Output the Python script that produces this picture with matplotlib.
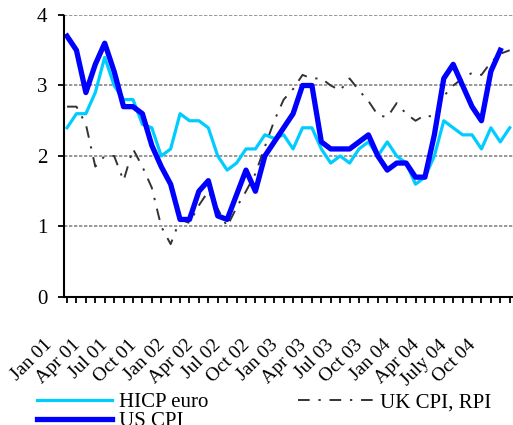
import numpy as np
import matplotlib.pyplot as plt
from matplotlib import transforms

plt.rcParams['font.family'] = ['Liberation Serif', 'DejaVu Serif']

# monthly data, Jan 01 .. Dec 04
hicp_euro = [2.4, 2.6, 2.6, 2.9, 3.4, 3.0, 2.8, 2.8, 2.45, 2.4, 2.0, 2.1,
             2.6, 2.5, 2.5, 2.4, 2.0, 1.8, 1.9, 2.1, 2.1, 2.3, 2.25, 2.3,
             2.1, 2.4, 2.4, 2.1, 1.9, 2.0, 1.9, 2.1, 2.2, 2.0, 2.2, 2.0,
             1.9, 1.6, 1.7, 2.0, 2.5, 2.4, 2.3, 2.3, 2.1, 2.4, 2.2, 2.4]
us_cpi = [3.7, 3.5, 2.9, 3.3, 3.6, 3.2, 2.7, 2.7, 2.6, 2.15, 1.85, 1.6,
          1.1, 1.1, 1.5, 1.65, 1.15, 1.1, 1.45, 1.8, 1.5, 2.0, 2.2, 2.4,
          2.6, 3.0, 3.0, 2.2, 2.1, 2.1, 2.1, 2.2, 2.3, 2.0, 1.8, 1.9,
          1.9, 1.7, 1.7, 2.3, 3.1, 3.3, 3.0, 2.7, 2.5, 3.2, 3.5]
uk_cpi_rpi = [2.7, 2.7, 2.45, 1.85, 2.0, 2.0, 1.65, 2.1, 1.85, 1.55, 1.0, 0.75,
              1.1, 1.05, 1.3, 1.5, 1.25, 1.0, 1.27, 1.5, 1.75, 2.13, 2.5, 2.8,
              2.95, 3.15, 3.1, 3.1, 3.0, 2.93, 3.1, 2.93, 2.78, 2.58, 2.55, 2.75,
              2.6, 2.5, 2.58, 2.55, 2.85, 3.0, 3.1, 3.18, 3.15, 3.33, 3.45, 3.5]
tick_labels = ['Jan 01', 'Apr 01', 'Jul 01', 'Oct 01', 'Jan 02', 'Apr 02', 'Jul 02', 'Oct 02',
               'Jan 03', 'Apr 03', 'Jul 03', 'Oct 03', 'Jan 04', 'Apr 04', 'July 04', 'Oct 04']

n_months = len(hicp_euro)
months = np.arange(n_months)

fig = plt.figure(figsize=(5.13, 4.25), dpi=100)
ax = fig.add_axes([0.1248, 0.3012, 0.8752, 0.6635])

h_uk, = ax.plot(months[:len(uk_cpi_rpi)], uk_cpi_rpi, color='#333333', lw=1.4,
                dashes=(6, 4.5, 1.2, 4.5))
h_hicp, = ax.plot(months[:len(hicp_euro)], hicp_euro, color='#00CCFF', lw=2.3)
h_us, = ax.plot(months[:len(us_cpi)], us_cpi, color='#0000FF', lw=3.8)

ax.set_xlim(-0.32, 47.35)
ax.set_ylim(0, 4)
ax.set_yticks([0, 1, 2, 3, 4])
ax.yaxis.grid(True, color='#888888', ls=(0, (2, 1)), lw=1.2)
ax.set_axisbelow(True)

for s in ['top', 'right']:
    ax.spines[s].set_visible(False)
for s in ['left', 'bottom']:
    ax.spines[s].set_linestyle((0, (1, 1)))
    ax.spines[s].set_linewidth(1.5)

ax.set_xticks(months)
ax.set_xticklabels([tick_labels[i // 3] if i % 3 == 0 and i // 3 < len(tick_labels) else ''
                    for i in months])
ax.tick_params(axis='x', direction='out', length=4, width=1.3, pad=0, labelsize=14)
ax.tick_params(axis='y', direction='out', length=4, width=1.3, pad=8, labelsize=15)

offset = transforms.ScaledTranslation(-24 / 100, -34 / 100, fig.dpi_scale_trans)
for lbl in ax.get_xticklabels():
    lbl.set_rotation(45)
    lbl.set_ha('right')
    lbl.set_va('top')
    lbl.set_rotation_mode('anchor')
    lbl.set_transform(lbl.get_transform() + offset)

fig.legend([h_hicp, h_us, h_uk], ['HICP euro', 'US CPI', 'UK CPI, RPI'],
           ncol=2, loc='upper left', bbox_to_anchor=(0.072, 0.076), frameon=False,
           fontsize=15, handlelength=3.6, handletextpad=0.35, columnspacing=4.3,
           labelspacing=-0.05, borderpad=0, borderaxespad=0)

fig.savefig('out.png', dpi=100)
